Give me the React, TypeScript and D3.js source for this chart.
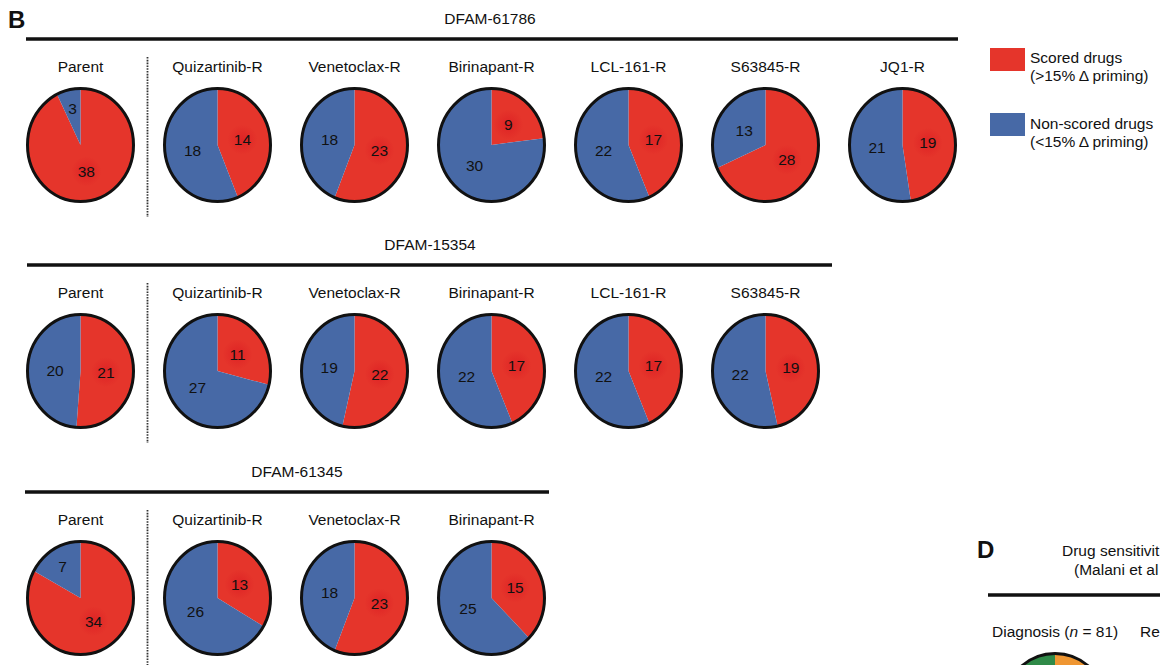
import React from "react";
import * as d3 from "d3";

// ---------- data ----------
const rowTitles = ["DFAM-61786", "DFAM-15354", "DFAM-61345"];
const row1Lines = ["Parent", "Quizartinib-R", "Venetoclax-R", "Birinapant-R", "LCL-161-R", "S63845-R", "JQ1-R"];
const row1Scored = [38, 14, 23, 9, 17, 28, 19];
const row1NonScored = [3, 18, 18, 30, 22, 13, 21];
const row2Lines = ["Parent", "Quizartinib-R", "Venetoclax-R", "Birinapant-R", "LCL-161-R", "S63845-R"];
const row2Scored = [21, 11, 22, 17, 17, 19];
const row2NonScored = [20, 27, 19, 22, 22, 22];
const row3Lines = ["Parent", "Quizartinib-R", "Venetoclax-R", "Birinapant-R"];
const row3Scored = [34, 13, 23, 15];
const row3NonScored = [7, 26, 18, 25];
const legendLabels = ["Scored drugs", "Non-scored drugs"];
const legendSubLabels = ["(>15% \u0394 priming)", "(<15% \u0394 priming)"];
// panel D is cut off at the right edge of the reference: only these parts are visible
const panelDTitle = ["Drug sensitivit", "(Malani et al"];
const panelDGroups = ["Diagnosis", "Re"];
const panelDDiag = [50, 50]; // orange, green (only top edge visible)

const RED = "#e5352b";
const BLUE = "#4769a6";
const GREEN = "#2f8a48";
const ORANGE = "#ef9632";
const FONT = "'Liberation Sans', Arial, Helvetica, sans-serif";

const W = 1160;
const H = 665;
const RX = 53;
const RY = 56.5;

const rows = [
  { title: rowTitles[0], lines: row1Lines, scored: row1Scored, non: row1NonScored, lineY: 39, lineX: [26, 958], titleX: 490 },
  { title: rowTitles[1], lines: row2Lines, scored: row2Scored, non: row2NonScored, lineY: 265, lineX: [27, 832], titleX: 430 },
  { title: rowTitles[2], lines: row3Lines, scored: row3Scored, non: row3NonScored, lineY: 492, lineX: [25, 549], titleX: 297 },
];

const xScale = d3.scaleLinear().domain([0, 6]).range([80.5, 902.5]);
const pieGen = d3.pie<number>().sort(null).value((d) => d);
const arcGen = d3.arc<d3.PieArcDatum<number>>().innerRadius(0).outerRadius(RY);

function Pie({ cx, cy, values, colors, showLabels }: { cx: number; cy: number; values: number[]; colors: string[]; showLabels: boolean }) {
  const arcs = pieGen(values);
  const sx = RX / RY;
  return (
    <g>
      <g transform={`translate(${cx},${cy}) scale(${sx},1)`}>
        {arcs.map((a, i) => (
          <path key={i} d={arcGen(a) || ""} fill={colors[i]} />
        ))}
        <ellipse cx={0} cy={0} rx={RY} ry={RY} fill="none" stroke="#111" strokeWidth={3} vectorEffect="non-scaling-stroke" />
      </g>
      {showLabels &&
        arcs.map((a, i) => {
          const ang = a.endAngle - a.startAngle;
          const r = ang < 1.2 ? 0.66 * RY : 0.48 * RY;
          const mid = (a.startAngle + a.endAngle) / 2;
          const lx = cx + Math.sin(mid) * r * sx;
          const ly = cy - Math.cos(mid) * r;
          return (
            <g key={"l" + i}>
              {i === 0 && <circle cx={lx} cy={ly} r={15} fill="url(#glow)" />}
              <text x={lx} y={ly} dy="0.36em" textAnchor="middle" fontSize={15.5} fill="#111" fontFamily={FONT}>
                {a.data}
              </text>
            </g>
          );
        })}
    </g>
  );
}

export default function App() {
  return (
    <svg width={W} height={H} style={{ position: "absolute", left: 0, top: 0, background: "#fff" }} fontFamily={FONT}>
      <defs>
        <radialGradient id="glow">
          <stop offset="0%" stopColor="#d8141f" stopOpacity={0.55} />
          <stop offset="100%" stopColor="#d8141f" stopOpacity={0} />
        </radialGradient>
      </defs>
      <text x={8} y={28} fontSize={24} fontWeight="bold" fill="#111">B</text>
      {rows.map((row, ri) => {
        const cy = row.lineY + 106;
        return (
          <g key={ri}>
            <text x={row.titleX} y={row.lineY - 15} textAnchor="middle" fontSize={15.5} fill="#111">{row.title}</text>
            <line x1={row.lineX[0]} x2={row.lineX[1]} y1={row.lineY} y2={row.lineY} stroke="#111" strokeWidth={3.3} />
            <line x1={147.5} x2={147.5} y1={row.lineY + 18} y2={row.lineY + 178} stroke="#333" strokeWidth={1.8} strokeDasharray="1.6,1.2" />
            {row.lines.map((name, i) => (
              <g key={name}>
                <text x={xScale(i)} y={row.lineY + 32.5} textAnchor="middle" fontSize={15.5} fill="#111">{name}</text>
                <Pie cx={xScale(i)} cy={cy} values={[row.scored[i], row.non[i]]} colors={[RED, BLUE]} showLabels={true} />
              </g>
            ))}
          </g>
        );
      })}
      {/* legend */}
      {legendLabels.map((lab, i) => (
        <g key={lab}>
          <rect x={990} y={48 + i * 65} width={35} height={23} fill={i === 0 ? RED : BLUE} />
          <text x={1030} y={63 + i * 66} fontSize={15.5} fill="#111">{lab}</text>
          <text x={1030} y={80.5 + i * 66} fontSize={15.5} fill="#111">{legendSubLabels[i]}</text>
        </g>
      ))}
      {/* panel D (cut off) */}
      <text x={977} y={558} fontSize={24} fontWeight="bold" fill="#111">D</text>
      <text x={1062} y={556} fontSize={15.5} fill="#111">{panelDTitle[0]}</text>
      <text x={1074} y={575} fontSize={15.5} fill="#111">{panelDTitle[1]}</text>
      <line x1={988} x2={1160} y1={595} y2={595} stroke="#111" strokeWidth={3.3} />
      <text x={992} y={637} fontSize={15.5} fill="#111">
        {panelDGroups[0]} (<tspan fontStyle="italic">n</tspan> = 81)
      </text>
      <text x={1140} y={637} fontSize={15.5} fill="#111">{panelDGroups[1]}</text>
      <Pie cx={1055} cy={710} values={panelDDiag} colors={[ORANGE, GREEN]} showLabels={false} />
    </svg>
  );
}
